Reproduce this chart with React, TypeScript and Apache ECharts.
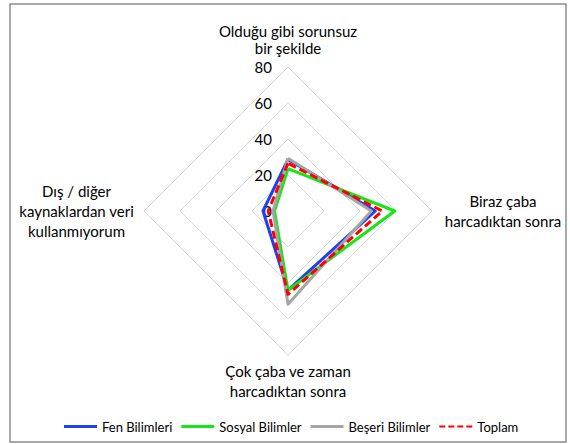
import React, { useEffect, useRef } from "react";
import * as echarts from "echarts";

const indicatorNames = [
  "Olduğu gibi sorunsuz\nbir şekilde",
  "Dış / diğer\nkaynaklardan veri\nkullanmıyorum",
  "Çok çaba ve zaman\nharcadıktan sonra",
  "Biraz çaba\nharcadıktan sonra",
];
const richKeys = ["t", "l", "b", "r"];
const seriesNames = ["Fen Bilimleri", "Sosyal Bilimler", "Beşeri Bilimler", "Toplam"];
const fen = [28.7, 13.9, 44, 48.5];
const sosyal = [23.5, 7.5, 44, 59.3];
const beseri = [29.3, 8.3, 51.8, 46.3];
const toplam = [26.5, 11, 46.3, 52.4];
const colors = ["#1f3ff0", "#16e616", "#a6a6a6", "#ff0000"];
const scaleMin = 0;
const scaleMax = 80;
const scaleStep = 20;

export default function App() {
  const ref = useRef<HTMLDivElement>(null);
  useEffect(() => {
    document.body.style.margin = "0";
    const chart = echarts.init(ref.current!, null, { renderer: "svg" });
    const values = [fen, sosyal, beseri, toplam];
    const base = { color: "#000", fontSize: 15, lineHeight: 20, fontFamily: "Lato" };
    chart.setOption({
      animation: false,
      backgroundColor: "#ffffff",
      textStyle: { fontFamily: "Lato" },
      graphic: [
        {
          type: "rect",
          shape: { x: 10, y: 4, width: 556, height: 438 },
          style: { fill: "none", stroke: "#8c8c8c", lineWidth: 1.5 },
          silent: true,
        },
      ],
      legend: {
        top: 415,
        left: 59,
        itemWidth: 33,
        itemHeight: 3,
        itemGap: 9,
        textStyle: { fontSize: 13, color: "#000", fontFamily: "Lato" },
        data: seriesNames.map((n, i) => ({
          name: n,
          icon: i === 3 ? "path://M0,0h6v2h-6z M9,0h6v2h-6z M18,0h6v2h-6z M27,0h6v2h-6z" : "rect",
        })),
      },
      polar: { center: [288, 211], radius: 144 },
      angleAxis: { show: false, startAngle: 90, min: 0, max: 360 },
      radiusAxis: {
        min: scaleMin,
        max: scaleMax,
        interval: scaleStep,
        axisLine: { show: false },
        axisTick: { show: false },
        splitLine: { show: false },
        axisLabel: { show: true, showMinLabel: true, color: "#000", fontSize: 15, margin: 16, fontFamily: "Lato" },
      },
      radar: {
        center: [288, 211],
        radius: 144,
        shape: "polygon",
        splitNumber: 4,
        startAngle: 90,
        axisName: {
          ...base,
          formatter: (name: string) => {
            const idx = indicatorNames.indexOf(name);
            const k = richKeys[idx];
            const lines = name.split("\n");
            return lines
              .map((ln, j) => (k === "t" && j === lines.length - 1 ? `{tl|${ln}}` : `{${k}|${ln}}`))
              .join("\n");
          },
          rich: {
            t: { ...base },
            tl: { ...base, padding: [0, 0, 7, 0] },
            b: { ...base },
            l: { ...base, width: 117, align: "center", padding: [0, 3, 0, 0] },
            r: { ...base, width: 110, align: "center", padding: [0, 0, 0, 10] },
          },
        },
        nameGap: 6,
        axisLine: { show: false },
        axisTick: { show: false },
        splitArea: { show: false },
        splitLine: { lineStyle: { color: "#d9d9d9", width: 1 } },
        axisLabel: { show: false },
        indicator: indicatorNames.map((n) => ({ name: n, min: scaleMin, max: scaleMax })),
      },
      series: [
        {
          type: "radar",
          symbol: "none",
          data: seriesNames.map((n, i) => ({
            name: n,
            value: values[i],
            lineStyle: { color: colors[i], width: 3, type: i === 3 ? [8, 4] : "solid" },
            itemStyle: { color: colors[i] },
            z: i,
          })),
        },
      ],
    });
    return () => chart.dispose();
  }, []);
  return <div ref={ref} style={{ width: 570, height: 444 }} />;
}
